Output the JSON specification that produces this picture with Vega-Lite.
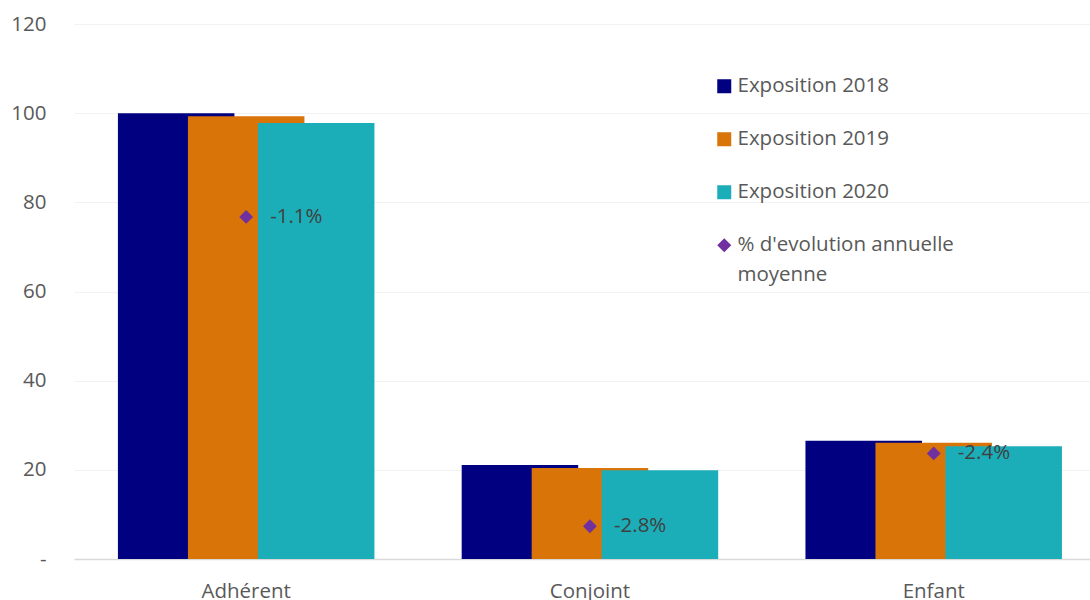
{
  "$schema": "https://vega.github.io/schema/vega-lite/v6.json",
  "width": 1016,
  "height": 535,
  "autosize": {"type": "none"},
  "padding": {"left": 74, "top": 24, "right": 0, "bottom": 41},
  "background": "white",
  "config": {
    "view": {"stroke": null},
    "font": "Open Sans"
  },
  "datasets": {
    "expo": [
      {"categorie": "Adhérent", "annee": "2018", "serie": "Exposition 2018", "valeur": 100.0},
      {"categorie": "Adhérent", "annee": "2019", "serie": "Exposition 2019", "valeur": 99.3},
      {"categorie": "Adhérent", "annee": "2020", "serie": "Exposition 2020", "valeur": 97.8},
      {"categorie": "Conjoint", "annee": "2018", "serie": "Exposition 2018", "valeur": 21.1},
      {"categorie": "Conjoint", "annee": "2019", "serie": "Exposition 2019", "valeur": 20.4},
      {"categorie": "Conjoint", "annee": "2020", "serie": "Exposition 2020", "valeur": 19.9},
      {"categorie": "Enfant", "annee": "2018", "serie": "Exposition 2018", "valeur": 26.5},
      {"categorie": "Enfant", "annee": "2019", "serie": "Exposition 2019", "valeur": 26.1},
      {"categorie": "Enfant", "annee": "2020", "serie": "Exposition 2020", "valeur": 25.3}
    ],
    "evolution": [
      {"categorie": "Adhérent", "serie": "% d'evolution annuelle moyenne", "evo": -0.011},
      {"categorie": "Conjoint", "serie": "% d'evolution annuelle moyenne", "evo": -0.028},
      {"categorie": "Enfant", "serie": "% d'evolution annuelle moyenne", "evo": -0.024}
    ]
  },
  "layer": [
    {
      "data": {"name": "expo"},
      "mark": {"type": "bar", "width": 116.5},
      "encoding": {
        "x": {
          "field": "categorie",
          "type": "nominal",
          "sort": ["Adhérent", "Conjoint", "Enfant"],
          "scale": {"paddingInner": 0.3891, "paddingOuter": 0.1723, "align": 0.567},
          "axis": {
            "title": null,
            "labelAngle": 0,
            "labelFont": "Open Sans",
            "labelFontSize": 20.5,
            "labelColor": "#595959",
            "labelPadding": 22,
            "ticks": false,
            "domain": true,
            "domainColor": "#D9D9D9",
            "domainWidth": 1.5,
            "grid": false
          }
        },
        "xOffset": {
          "field": "annee",
          "type": "nominal",
          "sort": ["2018", "2019", "2020"],
          "scale": {"paddingInner": 0, "paddingOuter": 0}
        },
        "y": {
          "field": "valeur",
          "type": "quantitative",
          "scale": {"domain": [0, 120], "nice": false},
          "axis": {
            "title": null,
            "values": [0, 20, 40, 60, 80, 100, 120],
            "labelExpr": "datum.value == 0 ? '-' : datum.label",
            "labelFont": "Open Sans",
            "labelFontSize": 20.5,
            "labelColor": "#595959",
            "labelPadding": 28,
            "ticks": false,
            "domain": false,
            "grid": true,
            "gridColor": "#F2F2F2",
            "gridWidth": 1.2
          }
        },
        "color": {
          "field": "serie",
          "type": "nominal",
          "scale": {
            "domain": ["Exposition 2018", "Exposition 2019", "Exposition 2020", "% d'evolution annuelle moyenne"],
            "range": ["#000080", "#D97408", "#1CAEB8", "#7030A0"]
          },
          "legend": {
            "title": null,
            "orient": "none",
            "direction": "vertical",
            "legendX": 640,
            "legendY": 52,
            "padding": 0,
            "rowPadding": 32,
            "labelOffset": 3,
            "labelFont": "Open Sans",
            "labelFontSize": 20.5,
            "labelColor": "#595959",
            "labelLimit": 400,
            "symbolSize": 196,
            "labelExpr": "indexof(datum.label, 'moyenne') > 0 ? ['% d\\'evolution annuelle', 'moyenne'] : datum.label",
            "encode": {
              "labels": {"update": {"lineHeight": {"value": 30}}}
            }
          }
        }
      }
    },
    {
      "data": {"name": "evolution"},
      "transform": [
        {"calculate": "replace(format(datum.evo, '.1%'), '\u2212', '-')", "as": "etiquette"}
      ],
      "encoding": {
        "x": {"field": "categorie", "type": "nominal", "sort": ["Adhérent", "Conjoint", "Enfant"]},
        "y": {
          "field": "evo",
          "type": "quantitative",
          "scale": {"domain": [-0.0298, -0.0004], "nice": false, "zero": false},
          "axis": null
        }
      },
      "layer": [
        {
          "mark": {"type": "point", "filled": true, "size": 190, "opacity": 1},
          "encoding": {
            "color": {"field": "serie", "type": "nominal"},
            "shape": {
              "field": "serie",
              "type": "nominal",
              "scale": {
                "domain": ["Exposition 2018", "Exposition 2019", "Exposition 2020", "% d'evolution annuelle moyenne"],
                "range": ["square", "square", "square", "diamond"]
              },
              "legend": {
                "title": null,
                "orient": "none",
                "direction": "vertical",
                "legendX": 640,
                "legendY": 52,
                "padding": 0,
                "rowPadding": 32,
                "labelOffset": 3,
                "labelFont": "Open Sans",
                "labelFontSize": 20.5,
                "labelColor": "#595959",
                "labelLimit": 400,
                "symbolSize": 196,
                "labelExpr": "indexof(datum.label, 'moyenne') > 0 ? ['% d\\'evolution annuelle', 'moyenne'] : datum.label",
                "encode": {
                  "labels": {"update": {"lineHeight": {"value": 30}}}
                }
              }
            }
          }
        },
        {
          "mark": {"type": "text", "align": "left", "baseline": "middle", "dx": 24, "font": "Open Sans", "fontSize": 20.5, "color": "#404040"},
          "encoding": {
            "text": {"field": "etiquette", "type": "nominal"}
          }
        }
      ]
    }
  ],
  "resolve": {"scale": {"y": "independent"}}
}
